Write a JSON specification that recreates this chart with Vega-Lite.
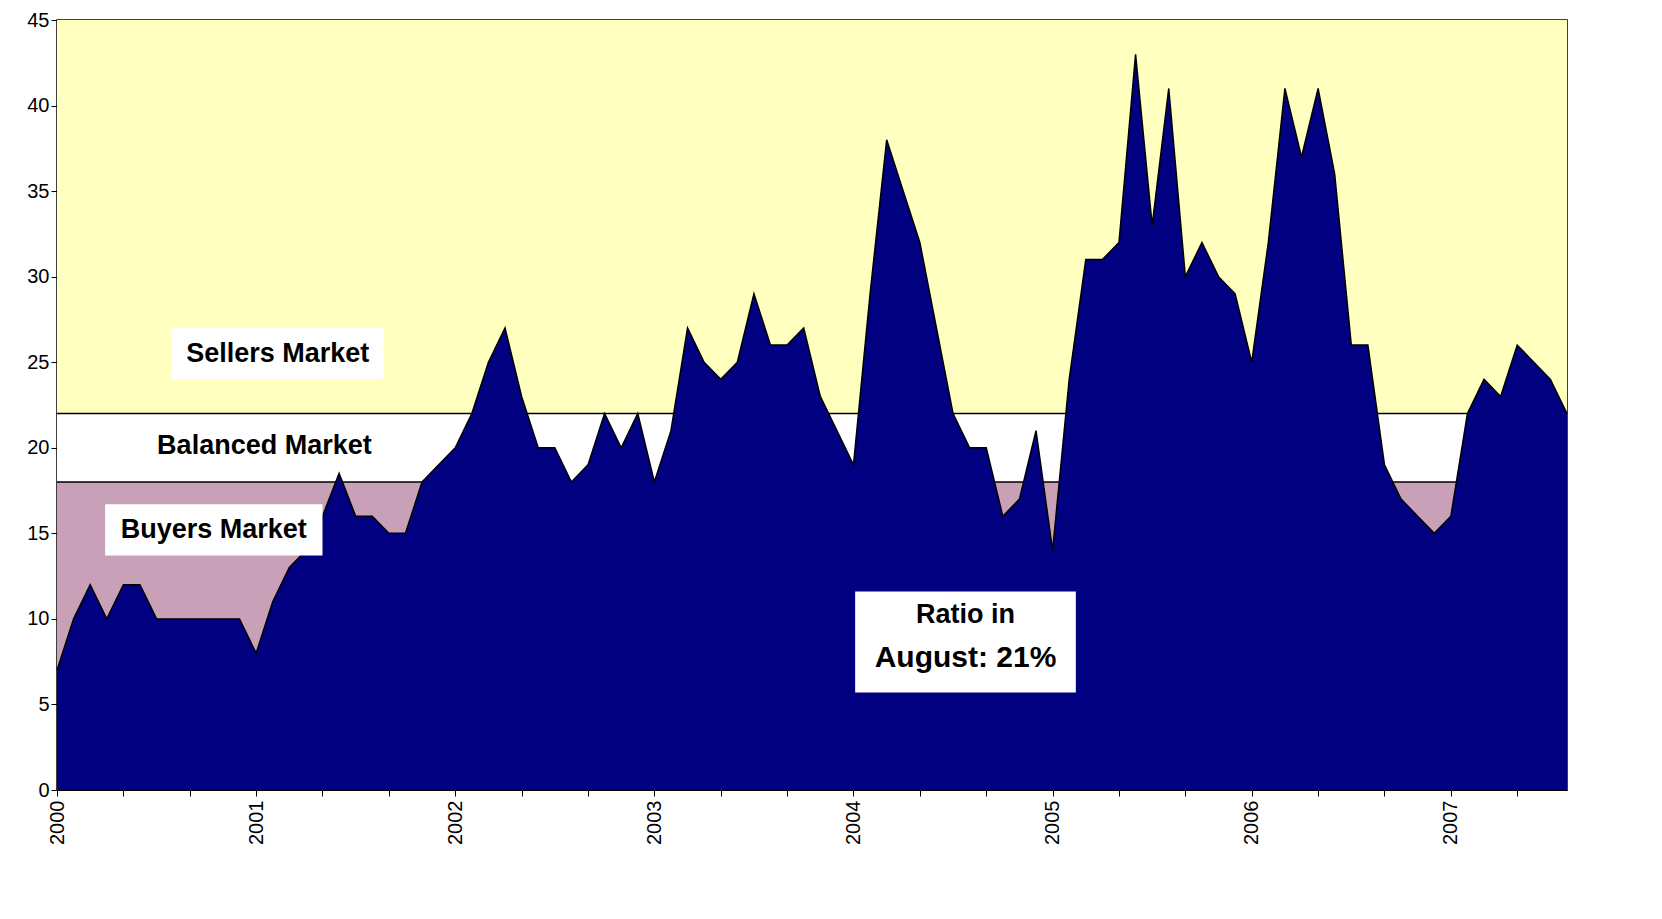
{
  "$schema": "https://vega.github.io/schema/vega-lite/v6.json",
  "width": 1510,
  "height": 770,
  "autosize": "none",
  "padding": {"left": 57, "top": 20, "right": 95, "bottom": 129},
  "background": "white",
  "config": {"view": {"stroke": "black", "strokeWidth": 1.5}, "font": "Liberation Sans"},
  "datasets": {
    "ratio": [
      {"m":0,"v":7},{"m":1,"v":10},{"m":2,"v":12},{"m":3,"v":10},{"m":4,"v":12},{"m":5,"v":12},{"m":6,"v":10},{"m":7,"v":10},{"m":8,"v":10},{"m":9,"v":10},{"m":10,"v":10},{"m":11,"v":10},
      {"m":12,"v":8},{"m":13,"v":11},{"m":14,"v":13},{"m":15,"v":14},{"m":16,"v":16},{"m":17,"v":18.5},{"m":18,"v":16},{"m":19,"v":16},{"m":20,"v":15},{"m":21,"v":15},{"m":22,"v":18},{"m":23,"v":19},
      {"m":24,"v":20},{"m":25,"v":22},{"m":26,"v":25},{"m":27,"v":27},{"m":28,"v":23},{"m":29,"v":20},{"m":30,"v":20},{"m":31,"v":18},{"m":32,"v":19},{"m":33,"v":22},{"m":34,"v":20},{"m":35,"v":22},
      {"m":36,"v":18},{"m":37,"v":21},{"m":38,"v":27},{"m":39,"v":25},{"m":40,"v":24},{"m":41,"v":25},{"m":42,"v":29},{"m":43,"v":26},{"m":44,"v":26},{"m":45,"v":27},{"m":46,"v":23},{"m":47,"v":21},
      {"m":48,"v":19},{"m":49,"v":29},{"m":50,"v":38},{"m":51,"v":35},{"m":52,"v":32},{"m":53,"v":27},{"m":54,"v":22},{"m":55,"v":20},{"m":56,"v":20},{"m":57,"v":16},{"m":58,"v":17},{"m":59,"v":21},
      {"m":60,"v":14},{"m":61,"v":24},{"m":62,"v":31},{"m":63,"v":31},{"m":64,"v":32},{"m":65,"v":43},{"m":66,"v":33},{"m":67,"v":41},{"m":68,"v":30},{"m":69,"v":32},{"m":70,"v":30},{"m":71,"v":29},
      {"m":72,"v":25},{"m":73,"v":32},{"m":74,"v":41},{"m":75,"v":37},{"m":76,"v":41},{"m":77,"v":36},{"m":78,"v":26},{"m":79,"v":26},{"m":80,"v":19},{"m":81,"v":17},{"m":82,"v":16},{"m":83,"v":15},
      {"m":84,"v":16},{"m":85,"v":22},{"m":86,"v":24},{"m":87,"v":23},{"m":88,"v":26},{"m":89,"v":25},{"m":90,"v":24},{"m":91,"v":22}
    ],
    "zones": [
      {"lo":22,"hi":45,"zone":"Sellers"},
      {"lo":18,"hi":22,"zone":"Balanced"},
      {"lo":0,"hi":18,"zone":"Buyers"}
    ],
    "labels": [
      {"x0":6.9,"x1":19.7,"y0":24,"y1":27,"box":1,"t1":"Sellers Market","t2":"","ty":25.5},
      {"x0":2.9,"x1":16.0,"y0":13.7,"y1":16.7,"box":1,"t1":"Buyers Market","t2":"","ty":15.2},
      {"x0":48.1,"x1":61.4,"y0":5.7,"y1":11.6,"box":1,"t1":"Ratio in","t2":"August: 21%","ty":10.2},
      {"x0":5,"x1":20,"y0":19,"y1":21,"box":0,"t1":"Balanced Market","t2":"","ty":20.1}
    ]
  },
  "layer": [
    {
      "data": {"name": "zones"},
      "mark": {"type": "rect"},
      "encoding": {
        "x": {"datum": 0, "type": "quantitative", "scale": {"domain": [0, 91], "nice": false}},
        "x2": {"datum": 91},
        "y": {"field": "lo", "type": "quantitative", "scale": {"domain": [0, 45]}},
        "y2": {"field": "hi"},
        "color": {"field": "zone", "type": "nominal", "legend": null,
          "scale": {"domain": ["Sellers", "Balanced", "Buyers"], "range": ["#ffffc0", "#ffffff", "#c8a0b8"]}}
      }
    },
    {
      "data": {"values": [{"y": 18}, {"y": 22}]},
      "mark": {"type": "rule", "color": "black", "strokeWidth": 1.5},
      "encoding": {"y": {"field": "y", "type": "quantitative"}}
    },
    {
      "data": {"name": "ratio"},
      "mark": {"type": "area", "color": "#000080", "opacity": 1, "fillOpacity": 1, "line": {"color": "black", "strokeWidth": 1.5}},
      "encoding": {
        "x": {"field": "m", "type": "quantitative", "title": null,
          "axis": {"values": [0,1,2,3,4,5,6,7,8,9,10,11,12,13,14,15,16,17,18,19,20,21,22,23,24,25,26,27,28,29,30,31,32,33,34,35,36,37,38,39,40,41,42,43,44,45,46,47,48,49,50,51,52,53,54,55,56,57,58,59,60,61,62,63,64,65,66,67,68,69,70,71,72,73,74,75,76,77,78,79,80,81,82,83,84,85,86,87,88,89,90],
            "labelExpr": "datum.value % 12 == 0 ? '' + (2000 + datum.value / 12) : ''",
            "labelAngle": -90, "labelAlign": "right", "labelBaseline": "middle", "labelFontSize": 20, "labelColor": "black",
            "tickColor": "black", "domainColor": "black", "tickSize": 6, "grid": false, "labelOverlap": false, "labelPadding": 4}},
        "y": {"field": "v", "type": "quantitative", "title": null,
          "axis": {"values": [0,5,10,15,20,25,30,35,40,45], "grid": false, "labelFontSize": 20, "labelColor": "black", "tickColor": "black", "domainColor": "black", "tickSize": 6}}
      }
    },
    {
      "data": {"name": "labels"},
      "transform": [{"filter": "datum.box == 1"}],
      "mark": {"type": "rect", "color": "white", "opacity": 1},
      "encoding": {
        "x": {"field": "x0", "type": "quantitative"}, "x2": {"field": "x1"},
        "y": {"field": "y0", "type": "quantitative"}, "y2": {"field": "y1"}
      }
    },
    {
      "data": {"name": "labels"},
      "transform": [{"calculate": "(datum.x0 + datum.x1) / 2", "as": "xc"}],
      "mark": {"type": "text", "fontSize": 27, "fontWeight": "bold", "color": "black", "baseline": "middle"},
      "encoding": {
        "x": {"field": "xc", "type": "quantitative"},
        "y": {"field": "ty", "type": "quantitative"},
        "text": {"field": "t1"}
      }
    },
    {
      "data": {"name": "labels"},
      "transform": [{"calculate": "(datum.x0 + datum.x1) / 2", "as": "xc"}, {"calculate": "datum.ty - 2.5", "as": "ty2"}],
      "mark": {"type": "text", "fontSize": 30, "fontWeight": "bold", "color": "black", "baseline": "middle"},
      "encoding": {
        "x": {"field": "xc", "type": "quantitative"},
        "y": {"field": "ty2", "type": "quantitative"},
        "text": {"field": "t2"}
      }
    }
  ]
}
